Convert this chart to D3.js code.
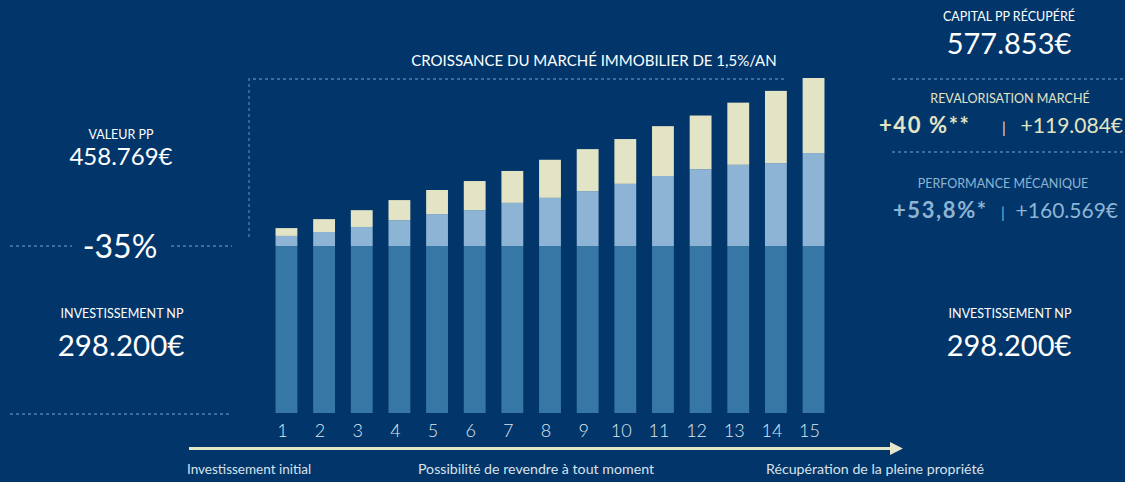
<!DOCTYPE html>
<html>
<head>
<meta charset="utf-8">
<script src="https://cdn.jsdelivr.net/npm/d3@7"></script>
<style>
  body { margin: 0; background: #02366a; }
  svg { display: block; font-family: Lato, "Open Sans", sans-serif; }
  .dots { stroke: #4f80b0; stroke-width: 1.3; stroke-dasharray: 3,3; fill: none; }
</style>
</head>
<body>
<script>
// years on the x axis
var years = ["1","2","3","4","5","6","7","8","9","10","11","12","13","14","15"];
// k€ per year
var investNP   = [298.2, 298.2, 298.2, 298.2, 298.2, 298.2, 298.2, 298.2, 298.2, 298.2, 298.2, 298.2, 298.2, 298.2, 298.2];
var mechanical = [18, 25, 34, 46, 57, 64, 77, 86, 98, 111, 125, 137, 145, 148, 166];
var market     = [14, 23, 30, 36, 43, 52, 57, 68, 75, 80, 89, 96, 111, 129, 134];

var title = "CROISSANCE DU MARCHÉ IMMOBILIER DE 1,5%/AN";
var phases = ["Investissement initial", "Possibilité de revendre à tout moment", "Récupération de la pleine propriété"];

var width = 1125, height = 482;

var colors = {investNP: "#3777a5", mechanical: "#8db4d5", market: "#e3e4c5"};

var rows = years.map(function(y, i) {
  return {year: y, investNP: investNP[i], mechanical: mechanical[i], market: market[i]};
});

var x = d3.scaleBand().domain(years).range([268, 832]).paddingInner(0.42).paddingOuter(0.2),
    y = d3.scaleLinear().domain([0, 600]).range([413, 77]);

var svg = d3.select("body").append("svg")
    .attr("width", width)
    .attr("height", height);

var stack = d3.stack().keys(["investNP", "mechanical", "market"]);

svg.append("g").selectAll("g")
    .data(stack(rows))
  .enter().append("g")
    .attr("fill", function(d) { return colors[d.key]; })
  .selectAll("rect")
    .data(function(d) { return d; })
  .enter().append("rect")
    .attr("x", function(d) { return x(d.data.year); })
    .attr("y", function(d) { return y(d[1]); })
    .attr("width", x.bandwidth())
    .attr("height", function(d) { return y(d[0]) - y(d[1]); });

// year labels
svg.append("g").selectAll("text")
    .data(years)
  .enter().append("text")
    .attr("x", function(d) { return x(d) + x.bandwidth() / 2 - 4; })
    .attr("y", 437)
    .attr("text-anchor", "middle")
    .attr("fill", "#dfe6ee")
    .attr("font-size", 18)
    .attr("font-weight", 300)
    .text(function(d) { return d; });

// dotted frame around chart top
svg.append("path").attr("class", "dots")
    .attr("d", "M249,237V79H785");
svg.append("text")
    .attr("x", 594).attr("y", 66)
    .attr("text-anchor", "middle")
    .attr("fill", "#ffffff")
    .attr("font-size", 15)
    .text(title);

// dotted separators
[[10, 72, 246], [171, 232, 246], [10, 232, 414], [892, 1125, 79], [892, 1125, 152]].forEach(function(s) {
  svg.append("line").attr("class", "dots")
      .attr("x1", s[0]).attr("x2", s[1]).attr("y1", s[2]).attr("y2", s[2]);
});

function label(x0, y0, txt, size, fill, anchor, weight) {
  return svg.append("text")
      .attr("x", x0).attr("y", y0)
      .attr("text-anchor", anchor || "middle")
      .attr("fill", fill || "#ffffff")
      .attr("font-size", size)
      .attr("font-weight", weight || 400)
      .text(txt);
}

// left side
label(121, 139, "VALEUR PP", 12.5);
label(121, 165, "458.769€", 24);
label(120, 258, "-35%", 32);
label(122, 318, "INVESTISSEMENT NP", 12.5);
label(121, 356, "298.200€", 29.5);

// right side
label(1009, 21, "CAPITAL PP RÉCUPÉRÉ", 12.5);
label(1009, 54, "577.853€", 29);
label(1010, 103, "REVALORISATION MARCHÉ", 12.5, "#e3e4c5");
label(879, 133, "+40 %**", 22, "#e3e4c5", "start", 700).attr("letter-spacing", 1.6);
label(1004, 133, "|", 15, "#e3e4c5");
label(1123, 133, "+119.084€", 21, "#e3e4c5", "end");
label(1003, 188, "PERFORMANCE MÉCANIQUE", 12.5, "#8db4d5");
label(893, 218, "+53,8%*", 22, "#8db4d5", "start", 700).attr("letter-spacing", 1.6);
label(1003, 218, "|", 15, "#8db4d5");
label(1118, 218, "+160.569€", 21, "#8db4d5", "end");
label(1010, 318, "INVESTISSEMENT NP", 12.5);
label(1009, 356, "298.200€", 29);

// timeline arrow
svg.append("defs").append("marker")
    .attr("id", "head")
    .attr("viewBox", "0 0 10 10")
    .attr("refX", 0).attr("refY", 5)
    .attr("markerWidth", 4.3).attr("markerHeight", 4.3)
    .attr("markerUnits", "strokeWidth")
    .attr("orient", "auto")
  .append("path")
    .attr("d", "M0,0L10,5L0,10Z")
    .attr("fill", "#e6e6c8");

svg.append("line")
    .attr("x1", 189).attr("x2", 890)
    .attr("y1", 448.5).attr("y2", 448.5)
    .attr("stroke", "#e6e6c8")
    .attr("stroke-width", 3)
    .attr("marker-end", "url(#head)");

label(187, 474, phases[0], 13.5, "#d9e1ea", "start");
label(536, 474, phases[1], 14.2, "#d9e1ea");
label(766, 474, phases[2], 14.2, "#d9e1ea", "start");
</script>
</body>
</html>
